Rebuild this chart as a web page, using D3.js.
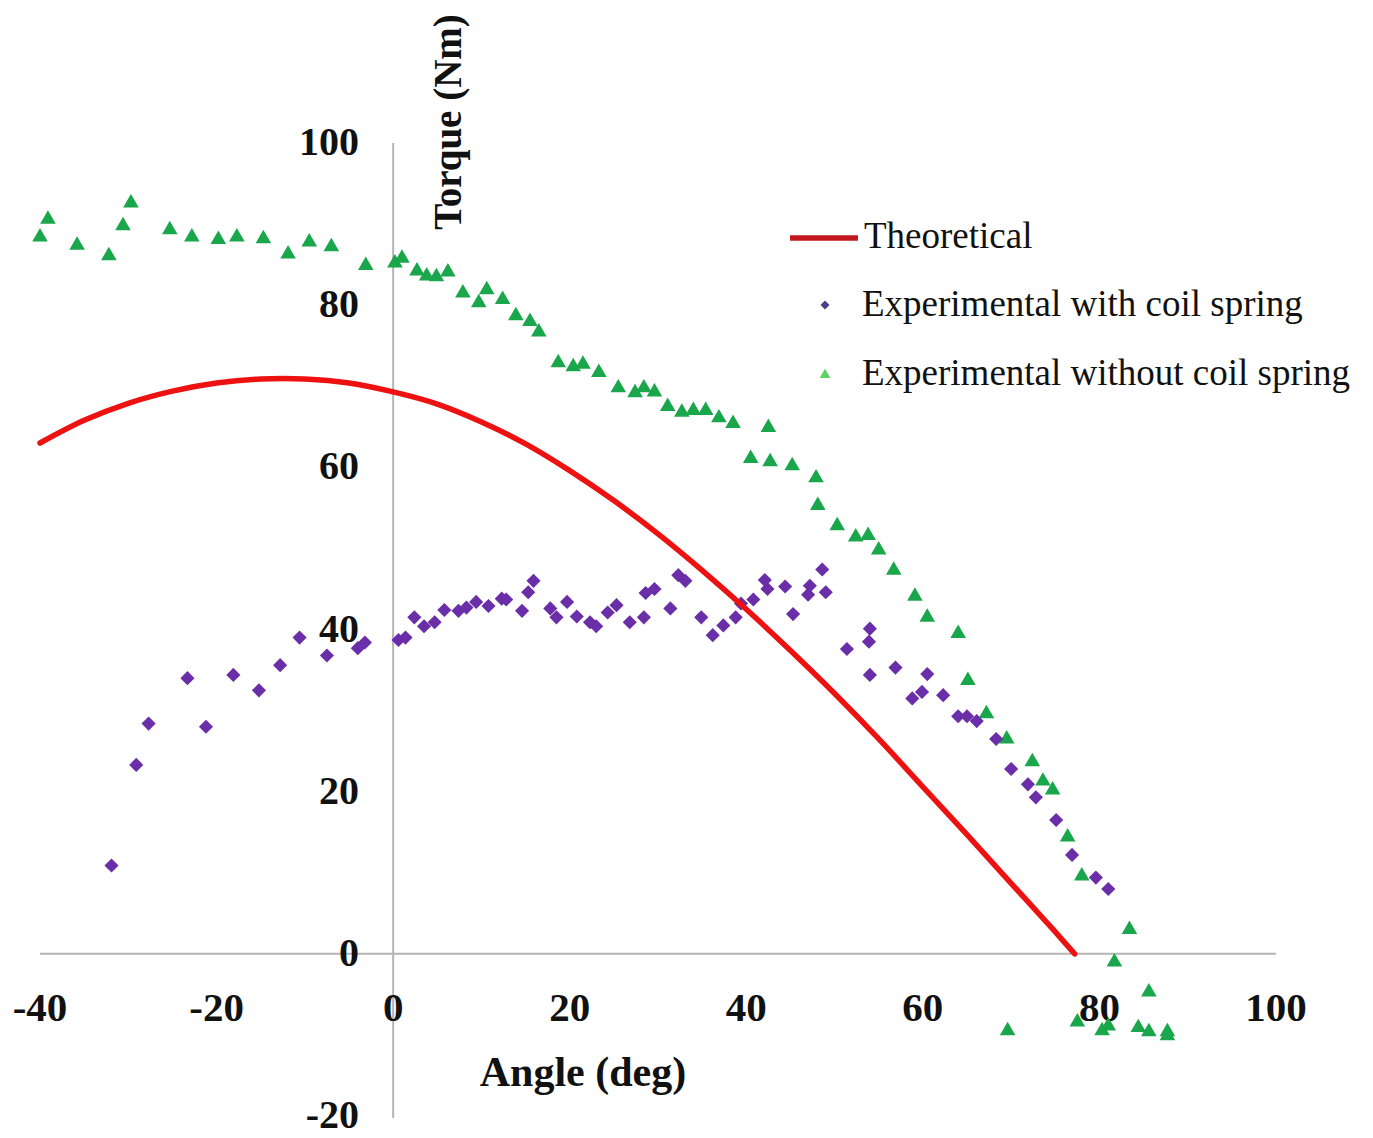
<!DOCTYPE html>
<html>
<head>
<meta charset="utf-8">
<script src="https://cdn.jsdelivr.net/npm/d3@7.9.0/dist/d3.min.js"></script>
<style>
  body { margin: 0; background: #fff; }
  svg text { font-family: "Liberation Serif", "Times New Roman", serif; fill: #111; }
</style>
</head>
<body>
<svg width="1373" height="1138"></svg>
<script>
// theoretical curve (angle in deg, torque in Nm)
const theoAngle = [-40, -35, -30, -25, -20, -15, -10, -5, 0, 5, 10, 15, 20, 25, 30, 35, 40, 45, 50, 55, 60, 65, 70, 75, 77.2];
const theoTorque = [63.0, 65.8, 67.9, 69.4, 70.4, 70.9, 70.9, 70.4, 69.3, 67.8, 65.6, 62.9, 59.6, 55.9, 51.8, 47.3, 42.5, 37.4, 32.1, 26.5, 20.6, 14.7, 8.7, 2.7, 0];

// experimental with coil spring
const withAngle = [-31.9, -29.1, -27.7, -23.3, -21.2, -18.1, -15.2, -12.8, -10.6, -7.5, -4.0, -3.2,
  0.6, 1.4, 2.4, 3.5, 4.7, 5.8, 7.4, 8.3, 9.4, 10.8, 12.3, 12.8, 14.6, 15.3, 15.9, 17.8, 18.5, 19.7,
  20.8, 22.3, 23.0, 24.3, 25.3, 26.8, 28.4, 28.6, 29.6, 31.4, 32.3, 33.1, 34.9, 36.2, 37.4, 38.8,
  39.4, 40.8, 42.1, 42.4, 44.4, 45.3, 47.2, 47.0, 48.6, 49.0, 51.4, 54.0, 53.9, 54.0, 56.9, 60.5,
  59.9, 58.8, 62.3, 64.0, 65.0, 66.1, 68.3, 70.0, 71.9, 72.8, 75.1, 76.9, 79.6, 81.0];
const withTorque = [10.9, 23.3, 28.4, 34.0, 28.0, 34.4, 32.5, 35.6, 39.0, 36.8, 37.7, 38.4,
  38.7, 39.0, 41.5, 40.4, 40.9, 42.4, 42.3, 42.7, 43.4, 42.9, 43.8, 43.7, 42.3, 44.6, 46.0, 42.6, 41.5, 43.4,
  41.6, 40.9, 40.4, 42.1, 43.0, 40.9, 41.5, 44.5, 45.0, 42.6, 46.7, 46.0, 41.5, 39.3, 40.5, 41.5,
  43.2, 43.7, 46.1, 45.0, 45.3, 41.9, 45.4, 44.3, 47.4, 44.6, 37.6, 40.1, 38.5, 34.4, 35.3, 34.5,
  32.3, 31.5, 31.9, 29.3, 29.3, 28.7, 26.5, 22.8, 20.9, 19.3, 16.5, 12.2, 9.4, 8.0];

// experimental without coil spring
const withoutAngle = [-40.0, -39.1, -35.8, -32.2, -30.6, -29.7, -25.3, -22.8, -19.8, -17.7, -14.7, -11.9, -9.5, -7.0,
  -3.1, 0.2, 1.0, 2.7, 3.8, 4.9, 6.2, 7.9, 9.7, 10.6, 12.4, 13.9, 15.5, 16.5, 18.7, 20.4, 21.5, 23.3,
  25.5, 27.4, 28.4, 29.6, 31.1, 32.7, 34.0, 35.4, 36.9, 38.5, 42.5, 40.5, 42.7, 45.2, 47.9, 48.1,
  50.3, 52.4, 53.8, 55.0, 56.7, 59.1, 60.5, 64.0, 65.1, 67.2, 69.5, 72.4, 73.6, 74.7, 76.4, 78.0,
  83.4, 81.7, 85.6, 69.6, 77.5, 80.3, 81.0, 84.4, 85.6, 87.7, 87.7];
const withoutTorque = [88.4, 90.6, 87.4, 86.1, 89.8, 92.6, 89.3, 88.4, 88.1, 88.4, 88.2, 86.3, 87.8, 87.2,
  84.9, 85.2, 85.8, 84.2, 83.6, 83.5, 84.1, 81.5, 80.3, 81.9, 80.7, 78.7, 78.0, 76.7, 72.9, 72.4, 72.7, 71.7,
  69.8, 69.2, 69.8, 69.3, 67.5, 66.8, 67.0, 67.0, 66.1, 65.4, 64.9, 61.1, 60.7, 60.2, 58.7, 55.3,
  52.8, 51.4, 51.6, 49.8, 47.3, 44.1, 41.5, 39.5, 33.7, 29.6, 26.5, 23.7, 21.3, 20.2, 14.4, 9.6,
  3.0, -1.0, -4.7, -9.5, -8.4, -9.5, -8.9, -9.1, -9.6, -9.6, -10.1];

const xTicks = [-40, -20, 0, 20, 40, 60, 80, 100];
const yTicks = [-20, 0, 20, 40, 60, 80, 100];
const seriesNames = ['Theoretical', 'Experimental with coil spring', 'Experimental without coil spring'];

const svg = d3.select('svg');

let x = d3.scaleLinear().domain([-40, 100]).range([40, 1276]);
let y = d3.scaleLinear().domain([-20, 100]).range([1116, 143]);

// axis lines crossing at origin
svg.append('line')
  .attr('x1', x(0)).attr('x2', x(0))
  .attr('y1', y(100)).attr('y2', y(-20) + 2)
  .attr('stroke', '#b5b5b5').attr('stroke-width', 2);
svg.append('line')
  .attr('x1', x(-40)).attr('x2', x(100))
  .attr('y1', y(0)).attr('y2', y(0))
  .attr('stroke', '#b5b5b5').attr('stroke-width', 2);

// tick labels
svg.append('g').selectAll('text')
  .data(xTicks)
  .join('text')
  .attr('x', (d) => x(d))
  .attr('y', 1021)
  .attr('text-anchor', 'middle')
  .attr('font-size', 41)
  .attr('font-weight', 'bold')
  .text((d) => d);

svg.append('g').selectAll('text')
  .data(yTicks)
  .join('text')
  .attr('x', 359)
  .attr('y', (d) => y(d))
  .attr('dy', '0.3em')
  .attr('text-anchor', 'end')
  .attr('font-size', 40)
  .attr('font-weight', 'bold')
  .text((d) => d);

// axis titles
svg.append('text')
  .attr('x', 583).attr('y', 1086)
  .attr('text-anchor', 'middle')
  .attr('font-size', 42).attr('font-weight', 'bold')
  .text('Angle (deg)');

svg.append('text')
  .attr('transform', 'translate(461,122) rotate(-90)')
  .attr('text-anchor', 'middle')
  .attr('font-size', 39).attr('font-weight', 'bold')
  .text('Torque (Nm)');

// markers
let diamond = d3.symbol().type(d3.symbolSquare).size(100);
let triangle = d3.symbol().type(d3.symbolTriangle).size(105);

svg.append('g').selectAll('path')
  .data(withoutAngle.map((a, i) => [a, withoutTorque[i]]))
  .join('path')
  .attr('d', triangle)
  .attr('transform', (d) => `translate(${x(d[0])},${y(d[1])})`)
  .attr('fill', '#1aa64b');

svg.append('g').selectAll('path')
  .data(withAngle.map((a, i) => [a, withTorque[i]]))
  .join('path')
  .attr('d', diamond)
  .attr('transform', (d) => `translate(${x(d[0])},${y(d[1])}) rotate(45)`)
  .attr('fill', '#6a2ea8');

// theoretical line
let line = d3.line()
  .x((d) => x(d[0]))
  .y((d) => y(d[1]))
  .curve(d3.curveCatmullRom);

svg.append('path')
  .datum(theoAngle.map((a, i) => [a, theoTorque[i]]))
  .attr('d', line)
  .attr('fill', 'none')
  .attr('stroke', '#ee1111')
  .attr('stroke-width', 5.5)
  .attr('stroke-linecap', 'round');

// legend
let legend = svg.append('g');
legend.append('line')
  .attr('x1', 790).attr('x2', 858).attr('y1', 238).attr('y2', 238)
  .attr('stroke', '#c41820').attr('stroke-width', 5.5);
legend.append('path')
  .attr('d', d3.symbol().type(d3.symbolSquare).size(40))
  .attr('transform', 'translate(825,305) rotate(45)')
  .attr('fill', '#4e3b8f');
legend.append('path')
  .attr('d', d3.symbol().type(d3.symbolTriangle).size(50))
  .attr('transform', 'translate(825,375)')
  .attr('fill', '#5fd35f');

legend.selectAll('text')
  .data(seriesNames)
  .join('text')
  .attr('x', (d, i) => i === 0 ? 864 : 862)
  .attr('y', (d, i) => [248, 316, 385][i])
  .attr('font-size', 37)
  .text((d) => d);
</script>
</body>
</html>
